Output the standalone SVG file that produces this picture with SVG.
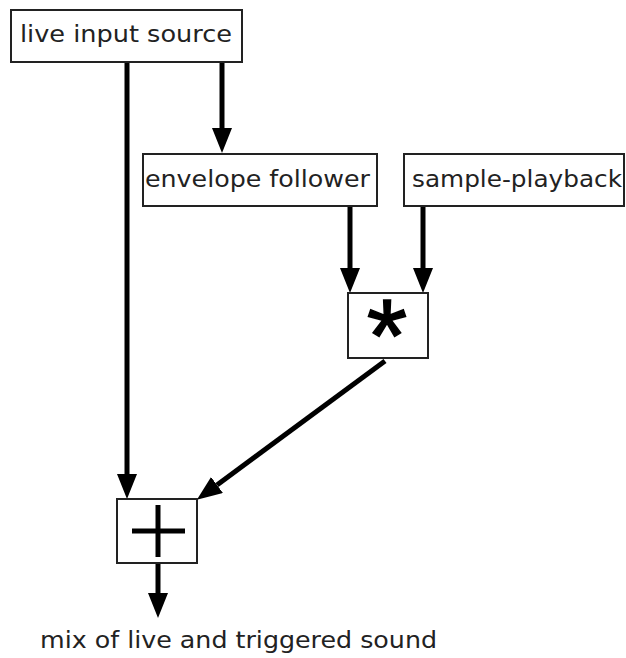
<svg xmlns="http://www.w3.org/2000/svg" width="626" height="658" viewBox="0 0 626 658">
<style>
.box{fill:#fff;stroke:#222;stroke-width:2}
.lbl{font-family:"DejaVu Sans",Verdana,sans-serif;font-size:23px;fill:#222}
.con{stroke:#000;stroke-width:5;fill:none}
.op{stroke:#000;stroke-width:5;stroke-linecap:butt}
</style>
<defs>
<marker id="ah" markerWidth="5" markerHeight="4" refX="0" refY="2" orient="auto" markerUnits="strokeWidth" viewBox="0 0 5 4">
<path d="M0,0 L5,2 L0,4 Z" fill="#000"/>
</marker>
</defs>
<rect width="626" height="658" fill="#fff"/>
<g id="connectors">
<line class="con" x1="127" y1="62" x2="127" y2="474" marker-end="url(#ah)"/>
<line class="con" x1="222" y1="62" x2="222" y2="128" marker-end="url(#ah)"/>
<line class="con" x1="350" y1="206" x2="350" y2="268" marker-end="url(#ah)"/>
<line class="con" x1="423" y1="206" x2="423" y2="268" marker-end="url(#ah)"/>
<line class="con" x1="385" y1="361" x2="217" y2="485" marker-end="url(#ah)"/>
<line class="con" x1="158" y1="563" x2="158" y2="593" marker-end="url(#ah)"/>
</g>
<g id="live-input">
<rect class="box" x="11" y="10" width="231" height="52"/>
<text class="lbl" x="126" y="42" text-anchor="middle" textLength="212" lengthAdjust="spacingAndGlyphs">live input source</text>
</g>
<g id="envelope-follower">
<rect class="box" x="143" y="154" width="234" height="52"/>
<text class="lbl" x="257.5" y="187" text-anchor="middle" textLength="225" lengthAdjust="spacingAndGlyphs">envelope follower</text>
</g>
<g id="sample-playback">
<rect class="box" x="404" y="154" width="220" height="52"/>
<text class="lbl" x="517" y="187" text-anchor="middle" textLength="210" lengthAdjust="spacingAndGlyphs">sample-playback</text>
</g>
<g id="multiply">
<rect class="box" x="348" y="293" width="80" height="65"/>
<text x="387" y="372" text-anchor="middle" font-family="Liberation Sans,Arial,sans-serif" font-size="104" fill="#000" stroke="#000" stroke-width="1.5">*</text>
</g>
<g id="add">
<rect class="box" x="117" y="499" width="80" height="64"/>
<line class="op" x1="158" y1="505" x2="158" y2="557"/>
<line class="op" x1="132" y1="531" x2="185" y2="531"/>
</g>
<g id="output">
<text class="lbl" x="238.5" y="648" text-anchor="middle" textLength="397" lengthAdjust="spacingAndGlyphs">mix of live and triggered sound</text>
</g>
</svg>
